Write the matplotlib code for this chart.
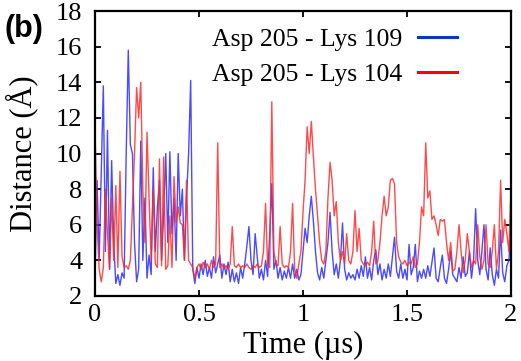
import numpy as np
import matplotlib
matplotlib.use("Agg")
import matplotlib.pyplot as plt
from matplotlib.lines import Line2D

# Distance (Å) sampled every 0.01 µs from 0 to 2 µs
lys109 = [3.0, 8.5, 4.0, 9.0, 13.8, 4.5, 11.3, 3.5, 9.6, 5.0,
          2.7, 3.2, 2.6, 3.3, 3.0, 10.0, 15.8, 10.5, 10.0, 5.0,
          2.8, 3.5, 10.7, 4.0, 7.5, 3.0, 4.3, 3.2, 9.2, 4.5,
          7.0, 8.5, 4.0, 6.5, 10.0, 5.0, 10.1, 5.5, 7.5, 4.0,
          10.0, 6.5, 8.0, 4.0, 7.5, 10.0, 14.1, 3.5, 2.7, 3.6,
          3.0, 3.8, 3.2, 4.0, 3.1, 3.6, 3.0, 4.2, 3.3, 3.8,
          4.3, 3.0, 3.8, 3.2, 3.9, 2.8, 3.5, 2.8, 3.3, 2.7,
          3.6, 3.0, 3.8, 4.8, 5.9, 4.0, 3.2, 5.5, 4.2, 3.0,
          3.5, 2.9, 4.0, 3.1, 5.5, 8.3, 3.5, 4.0, 3.0, 3.6,
          2.9, 3.4, 3.0, 3.6, 3.0, 3.8, 3.0, 3.5, 2.9, 3.2,
          4.5, 5.8, 5.0, 6.5, 7.6, 6.2, 4.5, 3.3, 2.9, 3.6,
          3.0, 4.0, 5.0, 6.7, 4.5, 3.2, 3.8, 3.0, 4.0, 6.1,
          3.5, 2.9, 3.3, 3.0, 3.2, 2.9, 3.5, 3.0, 3.7, 3.1,
          4.2, 3.0, 3.6, 2.9, 4.0, 4.6, 3.2, 3.8, 2.9, 3.5,
          3.0, 3.8, 3.1, 4.2, 5.3, 3.4, 3.0, 3.8, 3.0, 3.5,
          2.9, 4.9, 3.2, 3.6, 4.9, 2.8, 3.4, 3.0, 3.5, 3.0,
          3.7, 3.1, 3.9, 4.7, 3.0, 2.8, 3.6, 4.3, 3.0, 2.7,
          3.5, 4.5, 3.2, 3.0, 2.8, 3.6, 3.0, 4.2, 3.1, 3.3,
          4.5, 3.0, 4.0, 6.9, 4.0, 3.2, 4.5, 6.0, 3.5, 2.9,
          4.7, 3.2, 2.6, 3.5, 3.0, 5.7, 3.3, 2.8, 3.7, 4.0,
          6.2]

lys104 = [11.5, 6.0, 3.5, 2.8, 3.6, 8.0, 5.5, 3.5, 7.5, 4.0,
          8.2, 3.6, 9.0, 4.2, 3.6, 3.7, 3.5, 4.0, 7.0, 10.0,
          13.7, 12.0, 14.0, 8.0, 5.0, 11.2, 7.5, 4.0, 8.0, 3.8,
          3.6, 9.7, 3.7, 9.8, 3.5, 3.7, 6.5, 3.6, 8.7, 6.1,
          7.0, 6.1, 6.0, 4.0, 8.5, 4.0, 3.8, 3.6, 3.0, 3.6,
          3.8, 3.5, 3.9, 3.6, 3.8, 3.5, 4.0, 3.6, 3.8, 10.6,
          3.6, 3.8, 3.5, 3.7, 3.5, 3.8, 5.9, 3.7, 3.6, 3.8,
          3.6, 3.7, 3.6, 3.8, 3.6, 3.5, 3.7, 3.6, 3.8, 3.6,
          3.7, 4.5, 7.2, 3.7, 3.6, 12.9, 4.5, 3.8, 3.7, 5.9,
          3.8, 3.6, 3.7, 3.6, 4.5, 7.2, 3.5, 3.0, 3.8, 4.5,
          6.7, 8.5, 11.5, 10.0, 11.8, 9.8, 8.0, 6.5, 5.0, 4.0,
          3.8, 4.5, 7.5, 9.5, 8.5, 6.5, 7.3, 5.0, 4.0, 4.5,
          3.8, 5.5, 4.0, 3.8, 4.5, 6.8, 4.5, 5.8, 4.0, 3.8,
          3.7, 3.9, 3.7, 4.5, 6.2, 3.8, 4.0, 5.0, 6.5, 7.6,
          6.5, 7.0, 8.5, 8.6, 8.3, 5.0, 4.2, 3.9, 3.8, 4.0,
          3.7, 3.9, 3.8, 4.2, 3.6, 3.8, 5.0, 7.0, 6.5, 10.6,
          7.5, 7.9, 6.3, 6.5, 6.0, 5.4, 6.3, 6.2, 6.3, 5.0,
          4.0, 5.0, 3.4, 3.5, 4.5, 6.0, 4.5, 3.3, 4.0, 5.5,
          4.5, 3.6, 4.0, 3.8, 6.0, 4.2, 3.5, 4.0, 6.0, 3.8,
          3.6, 4.5, 6.0, 3.5, 4.5, 8.5, 5.0, 6.3, 5.5, 4.5,
          8.2]

labels = ["Asp 205 - Lys 109", "Asp 205 - Lys 104"]
xticks = [0, 0.5, 1, 1.5, 2]
xticklabels = ["0", "0.5", "1", "1.5", "2"]
yticks = [2, 4, 6, 8, 10, 12, 14, 16, 18]

time = np.linspace(0, 2, len(lys109))

serif = ["Liberation Serif", "DejaVu Serif"]
plt.rcParams["font.family"] = serif

W, H = 521, 361
fig = plt.figure(figsize=(W / 100, H / 100), dpi=100)
ax = fig.add_axes([95 / W, 1 - 296 / H, (511 - 95) / W, (296 - 11) / H])

ax.plot(time, lys109, color="#2a2aff", lw=1.0, alpha=0.85)
ax.plot(time, lys104, color="#ff2a2a", lw=1.0, alpha=0.85)

ax.set_xlim(0, 2)
ax.set_ylim(2, 18)
ax.set_xticks(xticks)
ax.set_xticklabels(xticklabels)
ax.set_yticks(yticks)
ax.tick_params(direction="in", length=4, width=1.3, labelsize=19,
               top=True, right=True)
ax.tick_params(axis="y", pad=9)
ax.tick_params(axis="x", pad=6)
for s in ax.spines.values():
    s.set_linewidth(1.6)

ax.set_xlabel("Time (\u00b5s)", fontsize=22, labelpad=3)
ax.set_ylabel("Distance (\u00c5)", fontsize=22, labelpad=13)

handles = [Line2D([], [], color="#1030d0", lw=2.2),
           Line2D([], [], color="#ff0000", lw=2.2)]
ax.legend(handles, labels, loc="upper right",
          bbox_to_anchor=((457 - 95) / 416, 0.94), frameon=False,
          markerfirst=False, fontsize=18.5, handlelength=1.5,
          handletextpad=0.62, labelspacing=0.45, borderpad=0,
          borderaxespad=0)

fig.text(4 / W, 1 - 29 / H, "(b)", fontsize=22, fontweight="bold",
         family=["Liberation Sans", "DejaVu Sans"], va="center", ha="left")

fig.savefig("out.png", dpi=100)
